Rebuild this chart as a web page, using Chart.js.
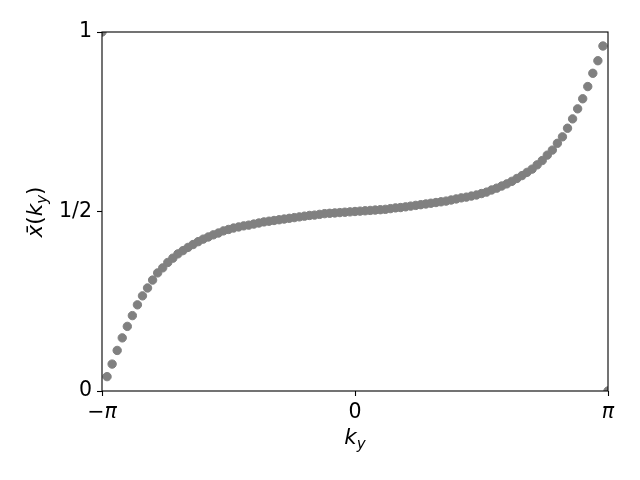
<!DOCTYPE html>
<html><head><meta charset="utf-8">
<script src="https://cdn.jsdelivr.net/npm/chart.js@4/dist/chart.umd.min.js"></script>
<style>html,body{margin:0;padding:0;background:#fff;}</style>
</head><body>
<canvas id="c" width="640" height="480"></canvas>
<script>
const PI = Math.PI;
const nSamples = 101;
// sample grid of k_y from -pi to pi
const kyGrid = Array.from({length: nSamples}, (_, i) => -PI + i * 2 * PI / (nSamples - 1));
// Wannier centre x-bar(k_y)
const xbarValues = [
  1.000, 0.040, 0.075, 0.113, 0.148, 0.180, 0.210, 0.240, 0.265, 0.287,
  0.309, 0.329, 0.343, 0.358, 0.370, 0.382, 0.391, 0.400, 0.408, 0.416,
  0.423, 0.429, 0.435, 0.440, 0.446, 0.450, 0.454, 0.457, 0.460, 0.462,
  0.465, 0.468, 0.471, 0.473, 0.475, 0.477, 0.479, 0.481, 0.483, 0.485,
  0.487, 0.489, 0.490, 0.492, 0.494, 0.495, 0.496, 0.497, 0.498, 0.499,
  0.500, 0.501, 0.502, 0.503, 0.504, 0.505, 0.506, 0.508, 0.510, 0.511,
  0.513, 0.515, 0.517, 0.519, 0.521, 0.523, 0.525, 0.527, 0.529, 0.532,
  0.535, 0.538, 0.540, 0.543, 0.546, 0.550, 0.554, 0.560, 0.565, 0.571,
  0.577, 0.584, 0.592, 0.600, 0.609, 0.618, 0.630, 0.642, 0.657, 0.671,
  0.690, 0.708, 0.732, 0.758, 0.786, 0.814, 0.848, 0.885, 0.920, 0.961,
  0.000
];
const kyTickValues = [-PI, 0, PI];
const kyTickLabels = ['\u2212\u03c0', '0', '\u03c0'];
const xbarTickValues = [0, 0.5, 1];
const xbarTickLabels = ['0', '1/2', '1'];

const points = kyGrid.map((k, i) => ({x: k, y: xbarValues[i]}));
const FONT = 'DejaVu Sans';

const framePlugin = {
  id: 'frame',
  afterDatasetsDraw(chart) {
    const {ctx, chartArea: a} = chart;
    ctx.save();
    ctx.strokeStyle = '#000';
    ctx.lineWidth = 1.1;
    ctx.strokeRect(a.left, a.top, a.right - a.left, a.bottom - a.top);
    ctx.restore();
  }
};

function drawMath(ctx, parts, size) {
  let total = 0;
  const ms = parts.map(p => {
    const s = p.sub ? size * 0.7 : size;
    ctx.font = (p.italic ? 'italic ' : '') + s + 'px "' + FONT + '"';
    const w = ctx.measureText(p.t).width;
    total += w;
    return {s, w};
  });
  let x = -total / 2;
  parts.forEach((p, i) => {
    ctx.font = (p.italic ? 'italic ' : '') + ms[i].s + 'px "' + FONT + '"';
    ctx.fillText(p.t, x, p.sub ? size * 0.25 : 0);
    x += ms[i].w;
  });
}

const titlePlugin = {
  id: 'titles',
  afterDraw(chart) {
    const ctx = chart.ctx;
    ctx.save();
    ctx.fillStyle = '#000';
    ctx.textBaseline = 'alphabetic';
    ctx.textAlign = 'left';
    ctx.save();
    ctx.translate(355, 444);
    drawMath(ctx, [{t: 'k', italic: true}, {t: 'y', italic: true, sub: true}], 21.5);
    ctx.restore();
    ctx.save();
    ctx.translate(42, 212);
    ctx.rotate(-PI / 2);
    drawMath(ctx, [{t: 'x\u0304', italic: true}, {t: '(', italic: false}, {t: 'k', italic: true}, {t: 'y', italic: true, sub: true}, {t: ')', italic: false}], 21.5);
    ctx.restore();
    ctx.restore();
  }
};

new Chart(document.getElementById('c'), {
  type: 'scatter',
  data: {
    datasets: [{
      data: points,
      backgroundColor: '#808080',
      borderColor: '#808080',
      pointRadius: 4.2,
      pointHoverRadius: 4.2,
      borderWidth: 1,
      clip: 0
    }]
  },
  options: {
    responsive: false,
    animation: false,
    events: [],
    layout: {padding: {left: 0, right: 32, top: 32, bottom: 0}},
    plugins: {legend: {display: false}, tooltip: {enabled: false}},
    scales: {
      x: {
        type: 'linear',
        min: -PI, max: PI,
        afterBuildTicks: s => { s.ticks = kyTickValues.map(v => ({value: v})); },
        afterFit: s => { s.height = 89; },
        border: {display: false},
        grid: {drawOnChartArea: false, drawTicks: true, tickLength: 5, color: '#000', tickColor: '#000', tickWidth: 1.1},
        ticks: {
          autoSkip: false, maxRotation: 0, minRotation: 0, padding: 4, color: '#000',
          font: c => ({family: FONT, size: 20.5, style: (c.index === 1 ? 'normal' : 'italic')}),
          callback: (v, i) => kyTickLabels[i]
        }
      },
      y: {
        type: 'linear',
        min: 0, max: 1,
        afterBuildTicks: s => { s.ticks = xbarTickValues.map(v => ({value: v})); },
        afterFit: s => { s.width = 102; },
        border: {display: false},
        grid: {drawOnChartArea: false, drawTicks: true, tickLength: 5, color: '#000', tickColor: '#000', tickWidth: 1.1},
        ticks: {
          autoSkip: false, padding: 5, color: '#000',
          font: {family: FONT, size: 20.5},
          callback: (v, i) => xbarTickLabels[i]
        }
      }
    }
  },
  plugins: [framePlugin, titlePlugin]
});
</script>
</body></html>
